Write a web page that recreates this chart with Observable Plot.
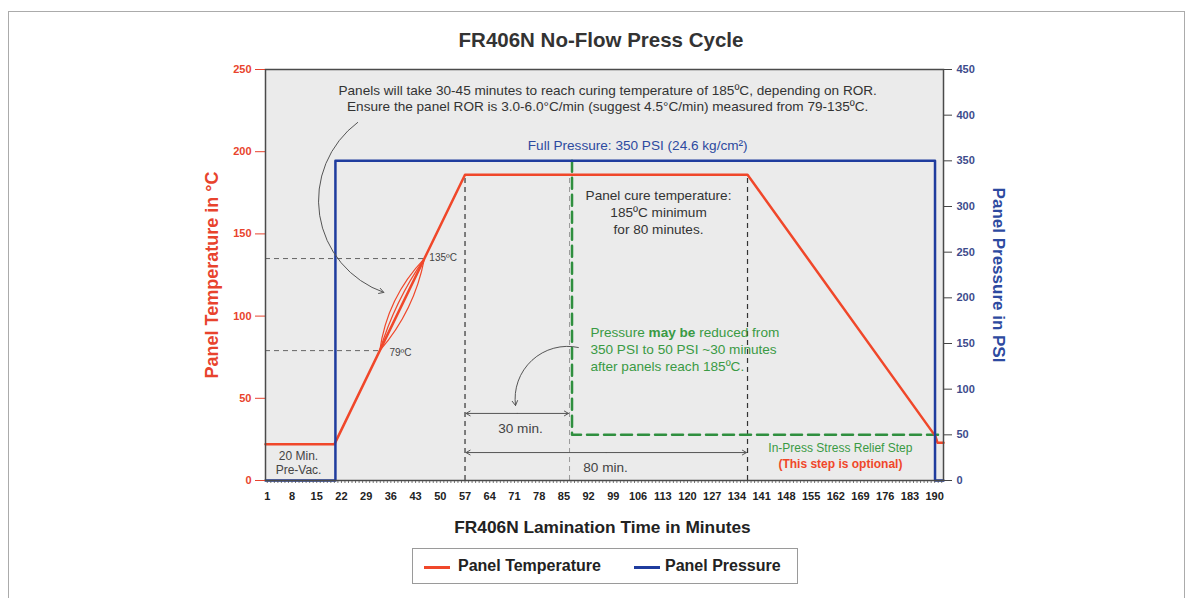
<!DOCTYPE html>
<html>
<head>
<meta charset="utf-8">
<script src="https://cdn.jsdelivr.net/npm/d3@7"></script>
<script src="https://cdn.jsdelivr.net/npm/@observablehq/plot@0.6"></script>
<style>
  body { margin: 0; background: #fff; font-family: "Liberation Sans", Arial, sans-serif; }
  #page { position: relative; width: 1193px; height: 598px; overflow: hidden; background: #fff; }
  #outer { position: absolute; left: 8px; top: 11px; width: 1177px; height: 640px; border: 1.5px solid #ababab; box-sizing: border-box; pointer-events: none; }
  #title { height: 58px; box-sizing: border-box; padding-top: 28px; padding-left: 9px; line-height: 24px; text-align: center; font-size: 20.5px; font-weight: bold; color: #333; }
  #chart svg { display: block; }
  #xlabel { height: 30px; line-height: 30px; padding-left: 12px; text-align: center; font-size: 17.3px; font-weight: bold; color: #222; }
  #legend { position: relative; margin: 6px 0 0 412px; width: 386px; height: 36px; border: 1px solid #9a9a9a; box-sizing: border-box; }
  #legend .sw { position: absolute; top: 17px; height: 3px; width: 26px; }
  #legend .lb { position: absolute; top: 0; line-height: 34px; font-size: 16px; font-weight: bold; color: #222; }
</style>
</head>
<body>
<div id="page">
  <div id="title">FR406N No-Flow Press Cycle</div>
  <div id="chart"></div>
  <div id="xlabel">FR406N Lamination Time in Minutes</div>
  <div id="legend">
    <span class="sw" style="left:11px;background:#f0472a"></span>
    <span class="lb" style="left:45px">Panel Temperature</span>
    <span class="sw" style="left:221px;background:#1f3c9e"></span>
    <span class="lb" style="left:252px">Panel Pressure</span>
  </div>
  <div id="outer"></div>
</div>
<script>
// ---------- data ----------
const minuteTicks = [1, 8, 15, 22, 29, 36, 43, 50, 57, 64, 71, 78, 85, 92, 99, 106, 113, 120, 127, 134, 141, 148, 155, 162, 169, 176, 183, 190];
const tempTicks = [0, 50, 100, 150, 200, 250];
const psiTicks = [0, 50, 100, 150, 200, 250, 300, 350, 400, 450];

// Panel temperature (°C) vs lamination minutes
const tempMinutes = [0.5, 20, 57, 137, 190.2, 190.8, 192.5];
const tempValues  = [22, 22, 186, 186, 27, 23, 23];

// Panel pressure (PSI) vs lamination minutes
const pressMinutes = [0.5, 20.3, 20.3, 190.1, 190.1, 192.5];
const pressValues  = [0, 0, 350, 350, 0, 0];

// Optional stress relief pressure step (PSI)
const reliefMinutes = [87.3, 87.3, 192.5];
const reliefValues  = [350, 50, 50];

// Reference marks
const cureMarks = [57, 137];     // cure start / end (min)
const reliefMark = [86.6];       // 30 min after cure start
const rampTemps = [79, 135];     // ROR measurement window (°C)

// ---------- helpers ----------
const TEMP_MAX = 250, PSI_MAX = 450;
const psiY = p => p * TEMP_MAX / PSI_MAX;
const table = (xs, ys) => xs.map((x, i) => ({x, y: ys[i]}));
const tempTable = table(tempMinutes, tempValues);
const pressTable = table(pressMinutes, pressValues.map(psiY));
const reliefTable = table(reliefMinutes, reliefValues.map(psiY));
// minute on the temperature ramp at a given temperature (from the ramp segment of the data)
const rampMinute = t => tempMinutes[1] + (t - tempValues[1]) * (tempMinutes[2] - tempMinutes[1]) / (tempValues[2] - tempValues[1]);
const lensSeg = [{x1: rampMinute(rampTemps[0]), y1: rampTemps[0], x2: rampMinute(rampTemps[1]), y2: rampTemps[1]}];

const font = "Liberation Sans, Arial, sans-serif";
const ink = "#333";
const green = "#3a9a44";
const red = "#f0472a";
const blue = "#1f3c9e";

const chart = Plot.plot({
  width: 1193,
  height: 454,
  marginLeft: 265,
  marginRight: 250,
  marginTop: 11,
  marginBottom: 32,
  x: {domain: [0.5, 192.5], axis: null},
  y: {domain: [0, TEMP_MAX], axis: null},
  style: {fontFamily: font, background: "transparent", overflow: "visible"},
  marks: [
    Plot.frame({fill: "#ebebeb", stroke: null}),
    // guide lines
    Plot.ruleY(rampTemps, {y: d => d, x1: 0.5, x2: d => rampMinute(d), stroke: "#666", strokeWidth: 1, strokeDasharray: "5,4"}),
    Plot.ruleX(cureMarks, {x: d => d, y1: 0, y2: tempValues[2], stroke: "#333", strokeWidth: 1.2, strokeDasharray: "5,4"}),
    Plot.ruleX(reliefMark, {x: d => d, y1: 0, y2: tempValues[2], stroke: "#999", strokeWidth: 1, strokeDasharray: "5,4"}),
    // series
    Plot.line(reliefTable, {x: "x", y: "y", stroke: "#2f8f3f", strokeWidth: 2.5, strokeDasharray: "11,6"}),
    Plot.line(tempTable, {x: "x", y: "y", stroke: red, strokeWidth: 2.5}),
    Plot.line(pressTable, {x: "x", y: "y", stroke: blue, strokeWidth: 2.5}),
    // ROR lens
    Plot.arrow(lensSeg, {x1: "x1", y1: "y1", x2: "x2", y2: "y2", bend: 18, headLength: 0, stroke: red, strokeWidth: 1.2}),
    Plot.arrow(lensSeg, {x1: "x1", y1: "y1", x2: "x2", y2: "y2", bend: 9, headLength: 0, stroke: red, strokeWidth: 1.2}),
    Plot.arrow(lensSeg, {x1: "x1", y1: "y1", x2: "x2", y2: "y2", bend: -15, headLength: 0, stroke: red, strokeWidth: 1.2}),
    // curved pointer arrows
    Plot.arrow([{x1: 26.6, y1: 217.8, x2: 34.0, y2: 114.4}], {x1: "x1", y1: "y1", x2: "x2", y2: "y2", bend: -62, headLength: 8, stroke: "#555", strokeWidth: 1}),
    Plot.arrow([{x1: 89.1, y1: 80.9, x2: 71.3, y2: 45.6}], {x1: "x1", y1: "y1", x2: "x2", y2: "y2", bend: -55, headLength: 8, stroke: "#555", strokeWidth: 1}),
    // dimension arrows (30 min / 80 min)
    Plot.arrow([
      {x1: 71.8, y1: 40.8, x2: cureMarks[0] + 0.3, y2: 40.8},
      {x1: 71.8, y1: 40.8, x2: reliefMark[0] - 0.3, y2: 40.8},
      {x1: 97, y1: 17, x2: cureMarks[0] + 0.3, y2: 17},
      {x1: 97, y1: 17, x2: cureMarks[1] - 0.3, y2: 17}
    ], {x1: "x1", y1: "y1", x2: "x2", y2: "y2", headLength: 7, stroke: "#555", strokeWidth: 1}),
    // annotations
    Plot.text([{x: 97.4, y: 233, t: "Panels will take 30-45 minutes to reach curing temperature of 185ºC, depending on ROR.\nEnsure the panel ROR is 3.0-6.0°C/min (suggest 4.5°C/min) measured from 79-135ºC."}],
      {x: "x", y: "y", text: "t", fontSize: 13.6, lineHeight: 1.18, fill: ink}),
    Plot.text([{x: 105.9, y: 203.8, t: "Full Pressure: 350 PSI (24.6 kg/cm²)"}],
      {x: "x", y: "y", text: "t", fontSize: 13.6, fill: "#2d4aa0"}),
    Plot.text([{x: 111.8, y: 163.6, t: "Panel cure temperature:\n185ºC minimum\nfor 80 minutes."}],
      {x: "x", y: "y", text: "t", fontSize: 13.6, lineHeight: 1.27, fill: ink}),
    Plot.text([{x: 46.9, y: 135.6, t: "135ºC"}, {x: 35.6, y: 77.9, t: "79ºC"}],
      {x: "x", y: "y", text: "t", fontSize: 10, textAnchor: "start", fill: "#444"}),
    Plot.text([{x: 92.5, y: 80.3, t: "Pressure may be reduced from\n350 PSI to 50 PSI ~30 minutes\nafter panels reach 185ºC."}],
      {x: "x", y: "y", text: "t", fontSize: 13.6, lineHeight: 1.24, textAnchor: "start", fill: green}),
    Plot.text([{x: 72.7, y: 31.6, t: "30 min."}, {x: 96.8, y: 7.9, t: "80 min."}],
      {x: "x", y: "y", text: "t", fontSize: 13.6, fill: "#444"}),
    Plot.text([{x: 163.3, y: 19.5, t: "In-Press Stress Relief Step"}],
      {x: "x", y: "y", text: "t", fontSize: 12, fill: green}),
    Plot.text([{x: 163.3, y: 9.7, t: "(This step is optional)"}],
      {x: "x", y: "y", text: "t", fontSize: 12, fontWeight: "bold", fill: red}),
    Plot.text([{x: 9.85, y: 10.9, t: "20 Min.\nPre-Vac."}],
      {x: "x", y: "y", text: "t", fontSize: 12, lineHeight: 1.17, fill: "#444"}),
    // axes
    Plot.axisX({ticks: d3.range(1, 193), tickSize: 3, text: null, stroke: "#555", strokeWidth: 0.8}),
    Plot.axisX({ticks: minuteTicks, tickSize: 0, tickPadding: 12, fontSize: 11, fontWeight: "bold", fill: "#222", label: null}),
    Plot.axisY({ticks: tempTicks, tickSize: 10, tickPadding: 4, fontSize: 11, fontWeight: "bold", color: "#e8432d", label: null}),
    Plot.axisY({anchor: "right", ticks: psiTicks.map(psiY), tickFormat: d => Math.round(d * PSI_MAX / TEMP_MAX), tickSize: 8, tickPadding: 5, fontSize: 11, fontWeight: "bold", stroke: "#444", fill: "#3d4b8c", label: null}),
    Plot.text(["Panel Temperature in °C"], {frameAnchor: "left", textAnchor: "middle", dx: -53, rotate: -90, fontSize: 18, fontWeight: "bold", fill: "#e8432d"}),
    Plot.text(["Panel Pressure in PSI"], {frameAnchor: "right", textAnchor: "middle", dx: 55, rotate: 90, fontSize: 17, fontWeight: "bold", fill: "#2d4aa0"}),
    Plot.frame({stroke: "#4a4a4a", strokeWidth: 1.5})
  ]
});

document.getElementById("chart").appendChild(chart);

// bold "may be" in the green note
d3.select(chart).selectAll("tspan, text").filter(function () {
  return this.childElementCount === 0 && this.textContent === "Pressure may be reduced from";
}).html('Pressure <tspan font-weight="bold">may be</tspan> reduced from');
</script>
</body>
</html>
